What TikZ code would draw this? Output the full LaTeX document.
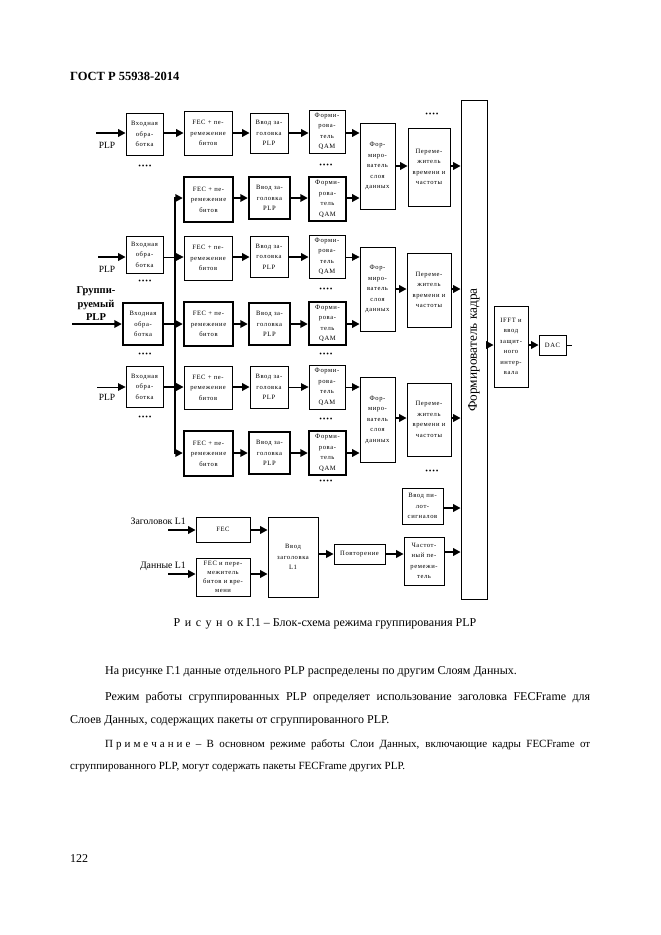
\documentclass[tikz,border=0pt]{standalone}
\usepackage{fontspec}
\setmainfont{Liberation Serif}
\newfontfamily\bxf[LetterSpace=9]{Liberation Serif}
\newfontfamily\dtf[LetterSpace=12]{Liberation Serif}
\usetikzlibrary{arrows.meta}
\tikzset{
  blk/.style={draw, line width=0.8pt, inner sep=0pt, align=center, font=\bxf\fontsize{6.6}{10.5}\selectfont},
  tblk/.style={blk, line width=2.4pt},
  arr/.style={line width=1.8pt, -{Triangle[length=7.5pt,width=7.5pt]}},
  tarr/.style={line width=0.8pt, -{Triangle[length=7.5pt,width=7.5pt]}},
  dots/.style={inner sep=0pt, font=\dtf\fontsize{7.5}{7.5}\selectfont},
  lbl/.style={inner sep=0pt, font=\fontsize{9.5}{11}\selectfont},
  body/.style={inner sep=0pt, anchor=base west, font=\fontsize{12}{14}\selectfont},
  note/.style={body, font=\fontsize{11}{13}\selectfont},
}
\newcommand\blk[7][blk]{\node[#1,minimum width={#4-#2},minimum height={#5-#3}] (#6) at ({(#2+#4)/2},{(#3+#5)/2}) {#7};}
\newcommand\lsp[1]{\hspace{#1}}
\begin{document}
\begin{tikzpicture}[x=1pt,y=-1pt]
\useasboundingbox (0,0) rectangle (661,935);
% header
\node[inner sep=0pt, anchor=base west, font=\bfseries\fontsize{12.5}{14}\selectfont] (hd) at (70,80) {ГОСТ Р 55938-2014};
% levels
\foreach \n/\v in {L1/133,L2/198,L3/257,L4/324,L5/387,L6/453,F1/166,F2/289,F3/418,Lh/530,Ld/574,Lr/554,Lp/508,Lf/552,La/345}
  \coordinate (\n) at (0,\v);
% row 1
\blk{126}{113}{163}{155}{in1}{Входная\\обра-\\ботка}
\blk{184}{111}{232}{155}{fec1}{FEC + пе-\\ремежение\\битов}
\blk{250}{113}{288}{153}{hdr1}{Ввод за-\\головка\\PLP}
\blk{309}{110}{345}{153}{qam1}{Форми-\\рова-\\тель\\QAM}
% row 2
\blk[tblk]{184}{177}{233}{222}{fec2}{FEC + пе-\\ремежение\\битов}
\blk[tblk]{249}{177}{290}{219}{hdr2}{Ввод за-\\головка\\PLP}
\blk[tblk]{309}{177}{346}{221}{qam2}{Форми-\\рова-\\тель\\QAM}
% row 3
\blk{126}{236}{163}{273}{in3}{Входная\\обра-\\ботка}
\blk{184}{236}{232}{280}{fec3}{FEC + пе-\\ремежение\\битов}
\blk{250}{236}{288}{277}{hdr3}{Ввод за-\\головка\\PLP}
\blk{309}{235}{345}{278}{qam3}{Форми-\\рова-\\тель\\QAM}
% row 4
\blk[tblk]{123}{303}{163}{345}{in4}{Входная\\обра-\\ботка}
\blk[tblk]{184}{302}{233}{346}{fec4}{FEC + пе-\\ремежение\\битов}
\blk[tblk]{249}{303}{290}{345}{hdr4}{Ввод за-\\головка\\PLP}
\blk[tblk]{309}{302}{346}{345}{qam4}{Форми-\\рова-\\тель\\QAM}
% row 5
\blk{126}{366}{163}{407}{in5}{Входная\\обра-\\ботка}
\blk{184}{366}{232}{409}{fec5}{FEC + пе-\\ремежение\\битов}
\blk{250}{366}{288}{408}{hdr5}{Ввод за-\\головка\\PLP}
\blk{309}{365}{345}{409}{qam5}{Форми-\\рова-\\тель\\QAM}
% row 6
\blk[tblk]{184}{431}{233}{476}{fec6}{FEC + пе-\\ремежение\\битов}
\blk[tblk]{249}{432}{290}{474}{hdr6}{Ввод за-\\головка\\PLP}
\blk[tblk]{309}{431}{346}{475}{qam6}{Форми-\\рова-\\тель\\QAM}
% data slice builders and interleavers
\blk{360}{123}{395}{209}{fs1}{Фор-\\миро-\\ватель\\слоя\\данных}
\blk{360}{247}{395}{331}{fs2}{Фор-\\миро-\\ватель\\слоя\\данных}
\blk{360}{377}{395}{462}{fs3}{Фор-\\миро-\\ватель\\слоя\\данных}
\blk{408}{128}{450}{206}{tf1}{Переме-\\житель\\времени и\\частоты}
\blk{407}{253}{451}{327}{tf2}{Переме-\\житель\\времени и\\частоты}
\blk{407}{383}{451}{456}{tf3}{Переме-\\житель\\времени и\\частоты}
% frame builder
\blk{461}{100}{487}{599}{fr}{}
\node[inner sep=0pt, rotate=90, font=\fontsize{13.3}{15}\selectfont] (frt) at (474,350) {Формирователь кадра};
\blk{494}{306}{528}{387}{ifft}{IFFT и\\ввод\\защит-\\ного\\интер-\\вала}
\blk{539}{335}{566}{355}{dac}{DAC}
\coordinate (out) at (572,345);
% L1 part
\blk{402}{488}{443}{524}{pil}{Ввод пи-\\лот-\\сигналов}
\blk{404}{537}{444}{585}{fqi}{Частот-\\ный пе-\\ремежи-\\тель}
\blk{334}{544}{385}{564}{rep}{Повторение}
\blk{268}{517}{318}{597}{l1h}{Ввод\\заголовка\\L1}
\blk{196}{517}{250}{542}{lf1}{FEC}
\blk[blk, font=\bxf\fontsize{6.6}{9.2}\selectfont]{196}{558}{250}{596}{lf2}{FEC и пере-\\межитель\\битов и вре-\\мени}
% labels
\node[lbl] (p1) at (107,145) {PLP};
\node[lbl] (p3) at (107,269) {PLP};
\node[lbl] (p5) at (107,397) {PLP};
\node[lbl, align=center, font=\bfseries\fontsize{10.5}{13.5}\selectfont] (gp) at (96,304) {Группи-\\руемый\\PLP};
\node[lbl, anchor=east, font=\fontsize{9.8}{11}\selectfont] (zl1) at (186,521) {Заголовок L1};
\node[lbl, anchor=east, font=\fontsize{9.8}{11}\selectfont] (dl1) at (186,566) {Данные L1};
\coordinate (i1) at (96,133);
\coordinate (i3) at (98,257);
\coordinate (i4) at (72,324);
\coordinate (i5) at (97,387);
\coordinate (ih) at (168,530);
\coordinate (id) at (168,574);
% dots
\foreach \n/\x/\y in {d1/145/167,d2/326/166,d3/145/282,d4/326/290,d5/145/355,d6/326/355,d7/145/418,d8/326/420,d9/326/482,d10/432/115,d11/432/472}
  \node[dots] (\n) at (\x,\y) {••••};
% connectors row 1
\draw[arr] (i1) -- (in1.west |- L1);
\draw[arr] (in1.east |- L1) -- (fec1.west |- L1);
\draw[arr] (fec1.east |- L1) -- (hdr1.west |- L1);
\draw[arr] (hdr1.east |- L1) -- (qam1.west |- L1);
\draw[arr] (qam1.east |- L1) -- (fs1.west |- L1);
% row 2
\draw[arr] (fec2.east |- L2) -- (hdr2.west |- L2);
\draw[arr] (hdr2.east |- L2) -- (qam2.west |- L2);
\draw[arr] (qam2.east |- L2) -- (fs1.west |- L2);
% row 3
\draw[arr] (i3) -- (in3.west |- L3);
\draw[tarr] (in3.east |- L3) -- (fec3.west |- L3);
\draw[arr] (fec3.east |- L3) -- (hdr3.west |- L3);
\draw[arr] (hdr3.east |- L3) -- (qam3.west |- L3);
\draw[tarr] (qam3.east |- L3) -- (fs2.west |- L3);
% row 4
\draw[arr] (i4) -- (in4.west |- L4);
\draw[arr] (in4.east |- L4) -- (fec4.west |- L4);
\draw[arr] (fec4.east |- L4) -- (hdr4.west |- L4);
\draw[arr] (hdr4.east |- L4) -- (qam4.west |- L4);
\draw[arr] (qam4.east |- L4) -- (fs2.west |- L4);
% row 5
\draw[tarr] (i5) -- (in5.west |- L5);
\draw[arr] (in5.east |- L5) -- (fec5.west |- L5);
\draw[arr] (fec5.east |- L5) -- (hdr5.west |- L5);
\draw[tarr] (hdr5.east |- L5) -- (qam5.west |- L5);
\draw[tarr] (qam5.east |- L5) -- (fs3.west |- L5);
% row 6
\draw[arr] (fec6.east |- L6) -- (hdr6.west |- L6);
\draw[arr] (hdr6.east |- L6) -- (qam6.west |- L6);
\draw[arr] (qam6.east |- L6) -- (fs3.west |- L6);
% grouping bus
\coordinate (bt) at (175,198);
\coordinate (bb) at (175,453);
\draw[line width=1.8pt, {Triangle[length=7.5pt,width=7.5pt]}-{Triangle[length=7.5pt,width=7.5pt]}] (fec2.west |- bt) -- (bt) -- (bb) -- (fec6.west |- bb);
% slice -> interleaver -> frame
\draw[arr] (fs1.east |- F1) -- (tf1.west |- F1);
\draw[arr] (fs2.east |- F2) -- (tf2.west |- F2);
\draw[arr] (fs3.east |- F3) -- (tf3.west |- F3);
\draw[arr] (tf1.east |- F1) -- (fr.west |- F1);
\draw[arr] (tf2.east |- F2) -- (fr.west |- F2);
\draw[arr] (tf3.east |- F3) -- (fr.west |- F3);
\draw[arr] (fr.east |- La) -- (ifft.west |- La);
\draw[arr] (ifft.east |- La) -- (dac.west |- La);
\draw[line width=0.8pt] (dac.east |- La) -- (out);
% L1
\draw[arr] (ih) -- (lf1.west |- Lh);
\draw[arr] (id) -- (lf2.west |- Ld);
\draw[arr] (lf1.east |- Lh) -- (l1h.west |- Lh);
\draw[arr] (lf2.east |- Ld) -- (l1h.west |- Ld);
\draw[arr] (l1h.east |- Lr) -- (rep.west |- Lr);
\draw[arr] (rep.east |- Lr) -- (fqi.west |- Lr);
\draw[arr] (fqi.east |- Lf) -- (fr.west |- Lf);
\draw[arr] (pil.east |- Lp) -- (fr.west |- Lp);
% caption and text
\node[inner sep=0pt, anchor=base, font=\fontsize{12}{14}\selectfont] (cap) at (325,626) {Р\lsp{4.5pt}и\lsp{4.5pt}с\lsp{4.5pt}у\lsp{4.5pt}н\lsp{4.5pt}о\lsp{4.5pt}к Г.1 – Блок-схема режима группирования PLP};
\node[body] (t1) at (105,674) {На рисунке Г.1 данные отдельного PLP распределены по другим Слоям Данных.};
\node[body] (t2) at (105,700) {\makebox[485pt][s]{Режим работы сгруппированных PLP определяет использование заголовка FECFrame для}};
\node[body] (t3) at (70,723) {Слоев Данных, содержащих пакеты от сгруппированного PLP.};
\node[note] (t4) at (105,747) {\makebox[485pt][s]{П\lsp{3pt}р\lsp{3pt}и\lsp{3pt}м\lsp{3pt}е\lsp{3pt}ч\lsp{3pt}а\lsp{3pt}н\lsp{3pt}и\lsp{3pt}е – В основном режиме работы Слои Данных, включающие кадры FECFrame от}};
\node[note] (t5) at (70,769) {сгруппированного PLP, могут содержать пакеты FECFrame других PLP.};
\node[body] (pg) at (70,862) {122};
\end{tikzpicture}
\end{document}
